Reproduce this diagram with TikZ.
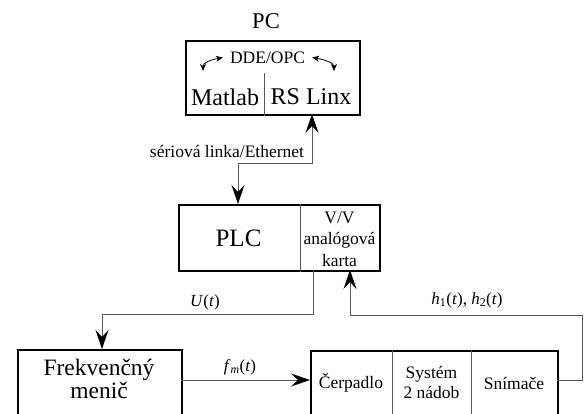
\documentclass[tikz,border=0pt]{standalone}
\usepackage{fontspec}
\setmainfont{Liberation Serif}
\usetikzlibrary{arrows.meta,calc}

\tikzset{
  blockbox/.style 2 args={draw=black,line width=1.8pt,inner sep=0pt,
    minimum width=#1,minimum height=#2,anchor=north west},
  divider/.style={draw=black!65,line width=1pt},
  wire/.style={draw=black!65,line width=1pt},
  bigtip/.tip={Stealth[length=19pt,width=13pt,inset=7pt,black]},
  smalltip/.tip={Stealth[length=7pt,width=6pt,inset=2pt,black]},
  txt/.style 2 args={inner sep=0pt,align=center,font=\fontsize{#1}{#2}\selectfont},
}

\begin{document}
\begin{tikzpicture}[x=1pt,y=-1pt]
\useasboundingbox (0,0) rectangle (585,414);
\clip (0,0) rectangle (585,414);

% PC block
\node[txt={22.5}{27}] (pclabel) at (266,21.5) {PC};
\node[blockbox={174pt}{74pt}] (pc) at (185,40) {};
\coordinate (pcdivtop) at (264,73);
\draw[divider] (pcdivtop) -- (pcdivtop |- pc.south);
\node[txt={17.5}{21}] (dde) at (267.5,57.5) {DDE/OPC};
\node[txt={24}{28}] (matlab) at (225,97) {Matlab};
\node[txt={24}{28}] (rslinx) at (311,97) {RS Linx};
\coordinate (ddeL) at (203,71);
\coordinate (ddeR) at (334,71);
\draw[draw=black,line width=0.8pt,{smalltip}-{smalltip}]
  (ddeL) .. controls (203,63) and (210,60) .. ([xshift=-7pt]dde.west);
\draw[draw=black,line width=0.8pt,{smalltip}-{smalltip}]
  ([xshift=7pt]dde.east) .. controls (326,60) and (334,63) .. (ddeR);

% PLC block
\node[blockbox={201pt}{66pt}] (plc) at (178,204) {};
\coordinate (plcdiv) at (300,204);
\draw[divider] (plcdiv) -- (plcdiv |- plc.south);
\node[txt={25}{30}] (plctext) at (238.5,238) {PLC};
\node[txt={17.5}{21.5}] (card) at (339.5,239) {V/V\\analógová\\karta};

% frequency converter block
\node[blockbox={164pt}{67pt}] (fm) at (17,349) {};
\node[txt={23.5}{23}] (fmtext) at (99,379) {Frekvenčný\\menič};

% process block
\node[blockbox={247pt}{66pt}] (proc) at (310,350) {};
\coordinate (pdiv1) at (392,350);
\coordinate (pdiv2) at (471,350);
\draw[divider] (pdiv1) -- (pdiv1 |- proc.south);
\draw[divider] (pdiv2) -- (pdiv2 |- proc.south);
\node[txt={17.5}{21}] (pump) at (351,383) {Čerpadlo};
\node[txt={17.5}{20}] (tanks) at (431.5,382) {Systém\\2 nádob};
\node[txt={17.5}{21}] (sensors) at (514,383) {Snímače};

% PC <-> PLC link
\coordinate (linkpc) at (312,114);
\coordinate (linkplc) at (238,204);
\draw[wire,{bigtip}-{bigtip}] (linkpc) -- (linkpc |- 0,163) -| (linkplc);
\node[txt={17.5}{21}] (linklabel) at (227,152) {sériová linka/Ethernet};

% control signal U(t)
\coordinate (uout) at (313,270);
\coordinate (uin) at (102,349);
\draw[wire,-{bigtip}] (uout) -- (uout |- 0,314) -| (uin);
\node[txt={17}{21}] (ulabel) at (205,302) {\textit{U}(\textit{t})};

% frequency f_m(t)
\coordinate (fmout) at (181,380);
\coordinate (fmin) at (310,380);
\draw[wire,-{bigtip}] (fmout) -- (fmin);
\node[txt={17}{21}] (fmlabel) at (240,367) {\textit{f}\textsubscript{\textit{m}}(\textit{t})};

% level feedback h1(t), h2(t)
\coordinate (hout) at (557,380);
\coordinate (hin) at (350,270);
\draw[wire,-{bigtip}] (hout) -- (582,380) -- (582,315) -| (hin);
\node[txt={17}{21}] (hlabel) at (467,300) {\textit{h}\textsubscript{1}(\textit{t}), \textit{h}\textsubscript{2}(\textit{t})};
\end{tikzpicture}
\end{document}
